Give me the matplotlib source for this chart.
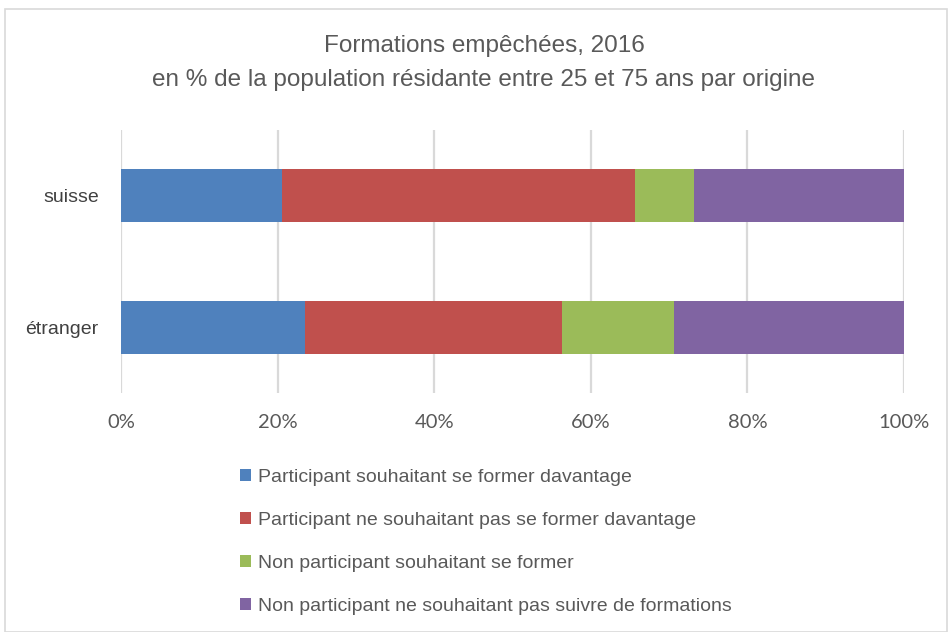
import matplotlib
matplotlib.use("Agg")
import matplotlib.pyplot as plt
from matplotlib.patches import Rectangle
from matplotlib import font_manager as fm

categories = ["suisse", "étranger"]
series_names = [
    "Participant souhaitant se former davantage",
    "Participant ne souhaitant pas se former davantage",
    "Non participant souhaitant se former",
    "Non participant ne souhaitant pas suivre de formations",
]
s1 = [20.6, 23.5]
s2 = [45.0, 32.8]
s3 = [7.6, 14.3]
s4 = [26.8, 29.4]
series = [s1, s2, s3, s4]
colors = ["#4F81BD", "#C0504D", "#9BBB59", "#8064A2"]
xticks = [0, 20, 40, 60, 80, 100]
xticklabels = ["0%", "20%", "40%", "60%", "80%", "100%"]

names = {f.name for f in fm.fontManager.ttflist}
narrow = "Liberation Sans Narrow" if "Liberation Sans Narrow" in names else "Liberation Sans"
tickfont = "Lato"

W, H = 950, 632
fig = plt.figure(figsize=(W / 100, H / 100), dpi=100)
fig.patch.set_facecolor("white")
fig.add_artist(Rectangle((5 / W, 0), (W - 8) / W, 1 - 9 / H, transform=fig.transFigure,
                         fill=False, edgecolor="#D9D9D9", linewidth=1.2))

left, right, top, bottom = 121, 904, 130, 393
ax = fig.add_axes([left / W, 1 - bottom / H, (right - left) / W, (bottom - top) / H])

ypos = list(range(len(categories)))
cum = [0] * len(categories)
handles = []
for vals, col, name in zip(series, colors, series_names):
    b = ax.barh(ypos, vals, left=cum, height=0.4, color=col, label=name, zorder=3)
    handles.append(b)
    cum = [c + v for c, v in zip(cum, vals)]

ax.set_xlim(0, 100)
ax.set_ylim(1.5, -0.5)
ax.set_xticks(xticks)
ax.set_xticklabels(xticklabels, fontfamily=tickfont, fontsize=14.5, color="#595959")
ax.set_yticks(ypos)
ax.set_yticklabels(categories, fontfamily=narrow, fontsize=14, color="#404040")
ax.tick_params(axis="both", length=0)
ax.tick_params(axis="x", pad=15)
ax.tick_params(axis="y", pad=16)
ax.grid(axis="x", color="#D9D9D9", linewidth=1.6, zorder=0)
for sp in ax.spines.values():
    sp.set_visible(False)

fig.text(484 / W, 1 - 63 / H, "Formations empêchées, 2016\nen % de la population résidante entre 25 et 75 ans par origine",
         ha="center", va="center", fontfamily=narrow, fontsize=17.5, color="#595959", linespacing=1.72)

leg = fig.legend(handles=handles, loc="upper left", bbox_to_anchor=(240 / W, 1 - 469 / H),
                 frameon=False, prop={"family": narrow, "size": 14}, labelcolor="#595959",
                 handlelength=0.55, handleheight=0.55, handletextpad=0.4, labelspacing=1.33,
                 borderaxespad=0, borderpad=0)

fig.savefig("out.png", dpi=100, facecolor="white")
